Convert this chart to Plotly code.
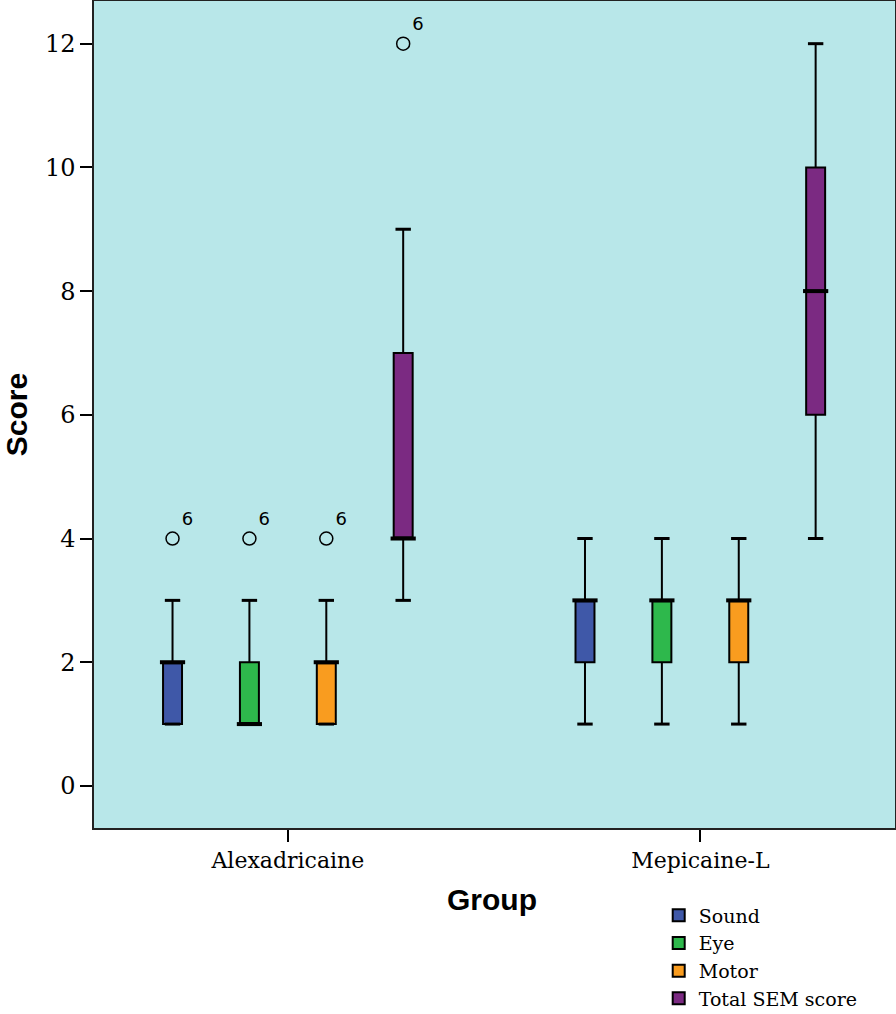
import plotly.graph_objects as go

groups = ["Alexadricaine", "Mepicaine-L"]
series = ["Sound", "Eye", "Motor", "Total SEM score"]
colors = ["#3F58A8", "#2EB84C", "#F99C1F", "#7B2A82"]

# per series: values for [Alexadricaine, Mepicaine-L]
lower = {"Sound": [1, 1], "Eye": [1, 1], "Motor": [1, 1], "Total SEM score": [3, 4]}
q1 = {"Sound": [1, 2], "Eye": [1, 2], "Motor": [1, 2], "Total SEM score": [4, 6]}
median = {"Sound": [2, 3], "Eye": [1, 3], "Motor": [2, 3], "Total SEM score": [4, 8]}
q3 = {"Sound": [2, 3], "Eye": [2, 3], "Motor": [2, 3], "Total SEM score": [7, 10]}
upper = {"Sound": [3, 4], "Eye": [3, 4], "Motor": [3, 4], "Total SEM score": [9, 12]}
# outliers: (group index, value, case label)
outliers = {"Sound": [(0, 4, "6")], "Eye": [(0, 4, "6")], "Motor": [(0, 4, "6")],
            "Total SEM score": [(0, 12, "6")]}

slot = 0.1864
bw = 0.046
gx = list(range(len(groups)))

fig = go.Figure()
for k, s in enumerate(series):
    off = (k - 1.5) * slot
    xs = [g + off for g in gx]
    fig.add_trace(go.Box(
        x=xs, q1=q1[s], median=median[s], q3=q3[s],
        lowerfence=lower[s], upperfence=upper[s],
        name=s, fillcolor=colors[k], line=dict(color="black", width=2),
        width=bw, boxpoints=False, whiskerwidth=0, hoverinfo="skip",
        legendgroup=s, showlegend=True,
    ))
    # median (thick)
    fig.add_trace(go.Scatter(
        x=xs, y=median[s], mode="markers",
        marker=dict(symbol="line-ew", size=18, line=dict(color="black", width=4)),
        showlegend=False, hoverinfo="skip"))
    # whisker caps
    fig.add_trace(go.Scatter(
        x=xs + xs, y=lower[s] + upper[s], mode="markers",
        marker=dict(symbol="line-ew", size=11, line=dict(color="black", width=3)),
        showlegend=False, hoverinfo="skip"))
    # outliers
    ox = [gx[g] + off for g, v, t in outliers[s]]
    oy = [v for g, v, t in outliers[s]]
    ot = [t for g, v, t in outliers[s]]
    fig.add_trace(go.Scatter(
        x=ox, y=oy, mode="markers+text", text=ot, textposition="top right",
        textfont=dict(family="DejaVu Sans", size=18, color="black"),
        marker=dict(symbol="circle-open", size=13, color="black", line=dict(width=1.5)),
        showlegend=False, hoverinfo="skip"))

fig.update_layout(
    width=896, height=1014,
    margin=dict(l=94, r=1, t=1, b=186, autoexpand=False),
    plot_bgcolor="#B8E7E9", paper_bgcolor="white",
    boxmode="overlay",
    legend=dict(x=0.705, y=0.116, xref="paper", yref="container",
                xanchor="left", yanchor="top",
                font=dict(family="DejaVu Serif", size=19, color="black"),
                tracegroupgap=0, itemwidth=30, bgcolor="rgba(0,0,0,0)"),
    xaxis=dict(range=[-0.470, 1.472], tickvals=gx, ticktext=groups,
               ticks="outside", ticklen=12, tickcolor="black", tickwidth=1.5,
               showgrid=False, zeroline=False, showline=True, linecolor="#222",
               linewidth=1.5, mirror=True, automargin=False,
               tickfont=dict(family="DejaVu Serif", size=22, color="black")),
    yaxis=dict(range=[-0.68, 12.69], tickvals=[0, 2, 4, 6, 8, 10, 12],
               ticks="outside", ticklen=12, tickcolor="black", tickwidth=1.5,
               showgrid=False, zeroline=False, showline=True, linecolor="#222",
               linewidth=1.5, mirror=True, automargin=False,
               tickfont=dict(family="DejaVu Serif", size=24, color="black"),
               title=dict(text="<b>Score</b>", standoff=14,
                          font=dict(family="Liberation Sans", size=30, color="black"))),
    annotations=[dict(text="<b>Group</b>", xref="paper", yref="paper",
                      x=0.497, y=-0.087, xanchor="center", yanchor="middle",
                      showarrow=False,
                      font=dict(family="Liberation Sans", size=30, color="black"))],
)
fig.write_html("out.html", config={"displayModeBar": False},
               post_script="document.body.style.margin='0';")
